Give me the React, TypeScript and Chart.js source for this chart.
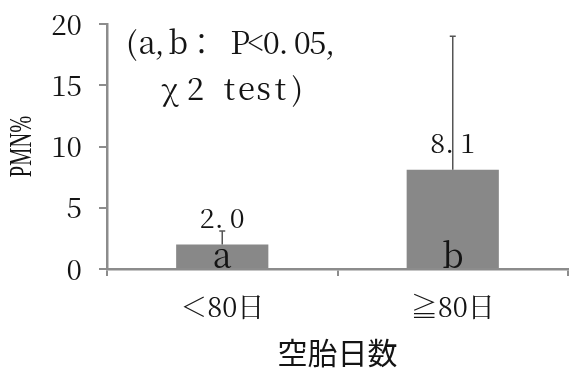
import { useEffect, useRef } from 'react';
import { Chart, registerables } from 'chart.js';

Chart.register(...registerables);

// Days open groups and PMN% per group
const categories = ['＜80日', '≧80日'];
const pmnPercent = [2.0, 8.1];
const errorUpper = [1.1, 10.9];
const groupLetters = ['a', 'b'];
const yTicks = [0, 5, 10, 15, 20];
const yTitle = 'PMN%';
const noteLines = ['(a,b： P<0.05,', 'χ2 test)'];

const AXIS_GRAY = '#8c8c8c';
const TEXT = '#141414';
const MINCHO = '"Noto Serif CJK JP", "Liberation Serif", serif';
const GOTHIC = '"Noto Sans CJK JP", sans-serif';

const WIDE = /[\u0370-\u03ff\u2000-\u2bff\u3000-\uffef]/;

// Lays text out on a fixed grid: half-width cells for ASCII, full cells for wide glyphs.
function drawCells(ctx: CanvasRenderingContext2D, text: string, x: number, y: number, pitch: number) {
  let cx = x;
  ctx.textAlign = 'center';
  for (const ch of text) {
    const w = WIDE.test(ch) ? pitch * 2 : pitch;
    if (ch !== ' ') {
      const gx = ch === '.' || ch === ',' ? cx + w * 0.3 : cx + w / 2;
      ctx.fillText(ch, gx, y);
    }
    cx += w;
  }
}

function cellsWidth(text: string, pitch: number) {
  let w = 0;
  for (const ch of text) w += WIDE.test(ch) ? pitch * 2 : pitch;
  return w;
}

const barExtras = {
  id: 'barExtras',
  afterDatasetsDraw(chart: any) {
    const { ctx, chartArea } = chart;
    const yScale = chart.scales.y;
    const meta = chart.getDatasetMeta(0);
    ctx.save();
    meta.data.forEach((bar: any, i: number) => {
      const top = yScale.getPixelForValue(pmnPercent[i] + errorUpper[i]);
      ctx.strokeStyle = '#555555';
      ctx.lineWidth = 1.5;
      ctx.beginPath();
      ctx.moveTo(bar.x, bar.y);
      ctx.lineTo(bar.x, top);
      ctx.moveTo(bar.x - 3, top);
      ctx.lineTo(bar.x + 3, top);
      ctx.stroke();

      ctx.fillStyle = TEXT;
      ctx.textBaseline = 'alphabetic';
      ctx.font = '27px ' + MINCHO;
      const label = pmnPercent[i].toFixed(1);
      const pitch = 15;
      drawCells(ctx, label, bar.x - cellsWidth(label, pitch) / 2, bar.y - 17, pitch);

      ctx.font = '34px ' + MINCHO;
      ctx.textAlign = 'center';
      ctx.fillText(groupLetters[i], bar.x, chartArea.bottom - 1);
    });

    // significance note
    ctx.fillStyle = TEXT;
    ctx.textBaseline = 'alphabetic';
    ctx.font = '31px ' + MINCHO;
    drawCells(ctx, noteLines[0], 124, 54, 15.5);
    drawCells(ctx, noteLines[1], 153, 100, 17);

    // condensed vertical axis title
    const midY = (chartArea.top + chartArea.bottom) / 2;
    ctx.translate(23, midY);
    ctx.rotate(-Math.PI / 2);
    ctx.scale(0.66, 1);
    ctx.font = '31px "Liberation Serif", serif';
    ctx.textAlign = 'center';
    ctx.textBaseline = 'middle';
    ctx.fillText(yTitle, 0, 0);
    ctx.restore();
  },
};

export default function App() {
  const canvasRef = useRef<HTMLCanvasElement | null>(null);

  useEffect(() => {
    const canvas = canvasRef.current;
    if (!canvas) return;
    const chart = new Chart(canvas, {
      type: 'bar',
      data: {
        labels: categories,
        datasets: [
          {
            data: pmnPercent,
            backgroundColor: '#888888',
            borderWidth: 0,
            barPercentage: 0.4,
            categoryPercentage: 1,
          },
        ],
      },
      options: {
        animation: false,
        responsive: false,
        devicePixelRatio: 1,
        layout: { padding: { left: 0, right: 3, top: 24, bottom: 0 } },
        plugins: {
          legend: { display: false },
          tooltip: { enabled: false },
        },
        scales: {
          x: {
            offset: true,
            grid: {
              display: true,
              offset: true,
              drawOnChartArea: false,
              drawTicks: true,
              tickLength: 7,
              color: AXIS_GRAY,
              lineWidth: 2,
            },
            border: { display: true, color: AXIS_GRAY, width: 2.5 },
            ticks: {
              color: TEXT,
              padding: 15,
              font: { family: MINCHO, size: 27, lineHeight: 1.2 },
            },
            title: {
              display: true,
              text: '空胎日数',
              color: TEXT,
              padding: 0,
              font: { family: GOTHIC, size: 30, lineHeight: 1.1 },
            },
            afterFit: (scale: any) => {
              scale.height = 100;
              scale.paddingLeft = 0;
              scale.paddingRight = 0;
            },
          },
          y: {
            min: 0,
            max: 20,
            grid: {
              display: true,
              drawOnChartArea: false,
              drawTicks: true,
              tickLength: 8,
              color: AXIS_GRAY,
              lineWidth: 2,
            },
            border: { display: true, color: AXIS_GRAY, width: 2.5 },
            ticks: {
              color: TEXT,
              padding: 17,
              font: { family: MINCHO, size: 28, lineHeight: 1.2 },
            },
            afterBuildTicks: (scale: any) => {
              scale.ticks = yTicks.map((v) => ({ value: v }));
            },
            title: { display: false },
            afterFit: (scale: any) => {
              scale.width = 107;
              scale.paddingTop = 0;
              scale.paddingBottom = 0;
            },
          },
        },
      },
      plugins: [barExtras],
    });
    return () => chart.destroy();
  }, []);

  return (
    <div style={{ position: 'fixed', left: 0, top: 0, width: 571, height: 369, background: '#fff' }}>
      <canvas ref={canvasRef} width={571} height={369} />
    </div>
  );
}
